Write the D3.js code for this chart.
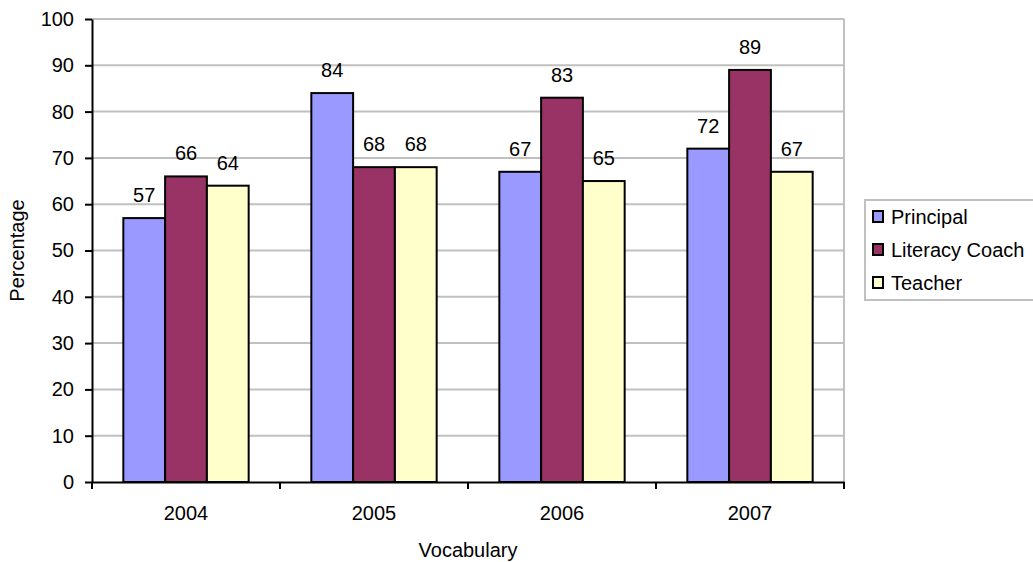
<!DOCTYPE html>
<html>
<head>
<meta charset="utf-8">
<script src="https://cdn.jsdelivr.net/npm/d3@7"></script>
<style>
  html, body { margin: 0; padding: 0; background: #fff; }
  text { font-family: "Liberation Sans", Arial, sans-serif; fill: #000; }
</style>
</head>
<body>
<svg id="chart" width="1033" height="562"></svg>
<script>
const categories = ["2004", "2005", "2006", "2007"];
const seriesNames = ["Principal", "Literacy Coach", "Teacher"];
const principal = [57, 84, 67, 72];
const literacyCoach = [66, 68, 83, 89];
const teacher = [64, 68, 65, 67];
const seriesValues = [principal, literacyCoach, teacher];
const seriesColors = ["#9999ff", "#993366", "#ffffcc"];
const yTicks = [0, 10, 20, 30, 40, 50, 60, 70, 80, 90, 100];

const svg = d3.select("#chart");
const plot = { left: 92, right: 844, top: 19, bottom: 482 };
const fs = 20;

const x = d3.scaleBand().domain(categories).range([plot.left, plot.right]).paddingInner(0).paddingOuter(0);
const barW = x.bandwidth() / 4.5;
const groupOff = (x.bandwidth() - 3 * barW) / 2;
const x1 = d3.scaleBand().domain(seriesNames).range([groupOff, groupOff + 3 * barW]).padding(0);
const y = d3.scaleLinear().domain([0, 100]).range([plot.bottom, plot.top]);

// gridlines
svg.append("g").selectAll("line").data(yTicks.filter(d => d > 0)).join("line")
  .attr("x1", plot.left).attr("x2", plot.right)
  .attr("y1", d => y(d)).attr("y2", d => y(d))
  .attr("stroke", "#c0c0c0").attr("stroke-width", 2);
// right border
svg.append("line").attr("x1", plot.right).attr("x2", plot.right)
  .attr("y1", plot.top).attr("y2", plot.bottom)
  .attr("stroke", "#c0c0c0").attr("stroke-width", 2);

// bars
const rows = [];
categories.forEach((c, i) => seriesNames.forEach((s, j) => rows.push({ c, s, j, v: seriesValues[j][i] })));
svg.append("g").selectAll("rect").data(rows).join("rect")
  .attr("x", d => x(d.c) + x1(d.s))
  .attr("y", d => y(d.v))
  .attr("width", x1.bandwidth())
  .attr("height", d => y(0) - y(d.v))
  .attr("fill", d => seriesColors[d.j])
  .attr("stroke", "#000").attr("stroke-width", 2);

// value labels
svg.append("g").selectAll("text").data(rows).join("text")
  .attr("x", d => x(d.c) + x1(d.s) + x1.bandwidth() / 2)
  .attr("y", d => y(d.v) - 16)
  .attr("text-anchor", "middle")
  .attr("font-size", fs)
  .text(d => d.v);

// y axis
const yAxis = svg.append("g").attr("transform", `translate(${plot.left},0)`)
  .call(d3.axisLeft(y).tickValues(yTicks).tickSize(7).tickPadding(11).tickSizeOuter(0));
yAxis.select(".domain").attr("stroke", "#000").attr("stroke-width", 2);
yAxis.selectAll(".tick line").attr("stroke", "#000").attr("stroke-width", 2);
yAxis.selectAll(".tick text").attr("font-size", fs).attr("font-family", "Liberation Sans, Arial, sans-serif").attr("fill", "#000");

// x axis
const xAxis = svg.append("g").attr("transform", `translate(0,${plot.bottom})`)
  .call(d3.axisBottom(x).tickSize(0).tickPadding(24).tickSizeOuter(0));
xAxis.select(".domain").attr("stroke", "#000").attr("stroke-width", 2);
xAxis.selectAll(".tick text").attr("font-size", fs).attr("font-family", "Liberation Sans, Arial, sans-serif").attr("fill", "#000");
// category boundary ticks
const bounds = categories.map(c => x(c)).concat([plot.right]);
svg.append("g").selectAll("line").data(bounds).join("line")
  .attr("x1", d => d).attr("x2", d => d)
  .attr("y1", plot.bottom).attr("y2", plot.bottom + 7)
  .attr("stroke", "#000").attr("stroke-width", 2);

// axis titles
svg.append("text").attr("x", (plot.left + plot.right) / 2).attr("y", 557)
  .attr("text-anchor", "middle").attr("font-size", fs).text("Vocabulary");
svg.append("text").attr("transform", `translate(24,${(plot.top + plot.bottom) / 2}) rotate(-90)`)
  .attr("text-anchor", "middle").attr("font-size", fs).text("Percentage");

// legend
const lg = svg.append("g");
lg.append("rect").attr("x", 865).attr("y", 200).attr("width", 200).attr("height", 100)
  .attr("fill", "#fff").attr("stroke", "#c0c0c0").attr("stroke-width", 2);
const items = lg.selectAll("g.item").data(seriesNames).join("g")
  .attr("transform", (d, i) => `translate(0,${217 + i * 33})`);
items.append("rect").attr("x", 873).attr("y", -6).attr("width", 10).attr("height", 11)
  .attr("fill", (d, i) => seriesColors[i]).attr("stroke", "#000").attr("stroke-width", 2);
items.append("text").attr("x", 891).attr("y", 7).attr("font-size", fs).text(d => d);
</script>
</body>
</html>
